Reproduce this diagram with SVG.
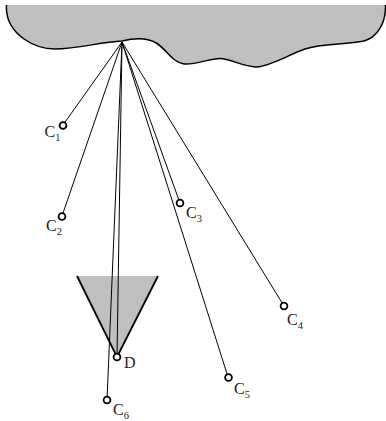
<svg xmlns="http://www.w3.org/2000/svg" width="386" height="421" viewBox="0 0 386 421">
<style>
.t{font-family:"Liberation Serif","Times New Roman",serif;font-size:16px;fill:#222}
.s{font-size:10.500px}
.n{fill:#fff;stroke:#000;stroke-width:1.800}
.c{stroke:#000;stroke-width:1;fill:none}
</style>
<rect width="386" height="421" fill="#fff"/>
<g id="cloud"><path d="M6.500 5C5.500 20 13 31 24 39C34 46 44 49 55 49C78 49 100 42 122 41C135 38 147 37 157 43.500C167 50 172 62 184 64C197 65 210 58 221 58.500C233 60 245 67 257 67C271 66 290 54 305 49C322 43 345 45 364 41C378 37 386 22 385.500 5Z" fill="#bfbfbf" stroke="none"/><path d="M6.500 5C5.500 20 13 31 24 39C34 46 44 49 55 49C78 49 100 42 122 41C135 38 147 37 157 43.500C167 50 172 62 184 64C197 65 210 58 221 58.500C233 60 245 67 257 67C271 66 290 54 305 49C322 43 345 45 364 41C378 37 386 22 385.500 5" fill="none" stroke="#000" stroke-width="1.500"/></g>
<g id="funnel"><path d="M77 276H158L117 357Z" fill="#bfbfbf"/><path d="M77 276L117 357L158 276" fill="none" stroke="#000" stroke-width="1.800"/></g>
<g id="connectors">
<path class="c" d="M122 42L63 125M122 42L62 216M122 42L180 203M122 42L284 306M122 42L228 377M122 42L107 400M122 42L117 357"/>
</g>
<g id="C1"><circle class="n" cx="63" cy="125.500" r="3.400"/><text class="t" x="44.500" y="137">C<tspan class="s" dy="4">1</tspan></text></g>
<g id="C2"><circle class="n" cx="62" cy="216.500" r="3.400"/><text class="t" x="46" y="231">C<tspan class="s" dy="4">2</tspan></text></g>
<g id="C3"><circle class="n" cx="180" cy="203" r="3.400"/><text class="t" x="186" y="218">C<tspan class="s" dy="4">3</tspan></text></g>
<g id="C4"><circle class="n" cx="284" cy="306" r="3.400"/><text class="t" x="287" y="325">C<tspan class="s" dy="4">4</tspan></text></g>
<g id="C5"><circle class="n" cx="228.500" cy="377.500" r="3.400"/><text class="t" x="234" y="394">C<tspan class="s" dy="4">5</tspan></text></g>
<g id="C6"><circle class="n" cx="107" cy="400" r="3.400"/><text class="t" x="113" y="415">C<tspan class="s" dy="4">6</tspan></text></g>
<g id="D"><circle class="n" cx="117" cy="357" r="3.400"/><text class="t" x="124" y="368">D</text></g>
</svg>
